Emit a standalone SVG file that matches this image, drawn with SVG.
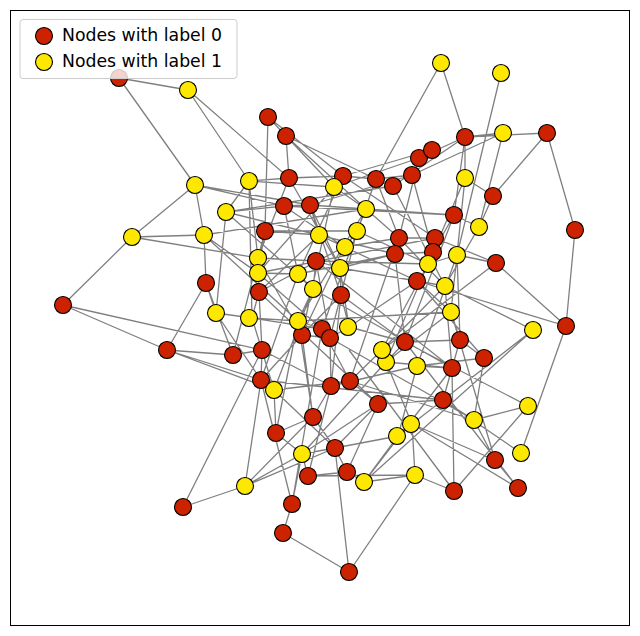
<svg xmlns="http://www.w3.org/2000/svg" width="640" height="636" viewBox="0 0 640 636">
<style>
.e{stroke:#000;stroke-opacity:.5;stroke-width:1.3;fill:none}
.r{fill:#cc2200;stroke:#000;stroke-width:1.1}
.y{fill:#ffe800;stroke:#000;stroke-width:1.1}
.t{font-family:"DejaVu Sans",sans-serif;font-size:17.3px;fill:#000}
</style>
<rect x="0" y="0" width="640" height="636" fill="#fff"/>
<rect x="10.5" y="10.5" width="619" height="615" fill="none" stroke="#000"/>
<g id="connectors">
<path class="e" d="M119,78L188,90 M119,78L195,185 M188,90L249,181 M188,90L289,178 M195,185L132,237 M195,185L204,235 M195,185L284,206 M195,185L310,205 M132,237L63,305 M132,237L204,235 M132,237L258,258 M63,305L262,350 M268,117L265,231 M268,117L286,136 M268,117L343,176 M286,136L289,178 M286,136L366,209 M286,136L376,179 M286,136L334,187 M441,63L465,137 M441,63L376,179 M501,73L457,255 M547,133L465,137 M547,133L493,196 M547,133L575,230 M575,230L566,326 M566,326L496,263 M566,326L521,453 M503,133L465,137 M503,133L412,175 M503,133L479,227 M465,137L419,158 M465,137L465,178 M465,137L454,215 M465,137L393,186 M432,150L419,158 M432,150L343,176 M419,158L395,254 M419,158L334,187 M412,175L310,205 M412,175L433,252 M412,175L376,179 M393,186L226,212 M393,186L445,286 M376,179L343,176 M376,179L399,238 M376,179L322,329 M343,176L334,187 M343,176L289,178 M343,176L435,238 M343,176L298,274 M334,187L249,181 M334,187L258,273 M334,187L302,335 M334,187L366,209 M289,178L249,181 M289,178L340,268 M289,178L258,258 M249,181L226,212 M249,181L258,258 M249,181L252,318 M226,212L284,206 M226,212L313,289 M226,212L216,313 M226,212L395,254 M204,235L206,283 M204,235L258,273 M204,235L298,321 M204,235L366,209 M284,206L310,205 M284,206L298,274 M284,206L344,247 M284,206L454,215 M310,205L319,235 M310,205L366,209 M310,205L340,268 M310,205L341,295 M366,209L357,231 M366,209L399,238 M366,209L454,215 M366,209L298,321 M265,231L319,235 M265,231L258,273 M265,231L357,231 M265,231L233,355 M319,235L259,292 M319,235L345,247 M319,235L417,281 M357,231L345,247 M357,231L330,338 M357,231L428,264 M344,247L259,292 M344,247L399,238 M344,247L302,335 M399,238L435,238 M399,238L445,286 M399,238L350,381 M435,238L433,252 M435,238L496,263 M435,238L258,273 M433,252L395,254 M433,252L454,215 M433,252L386,362 M395,254L340,268 M395,254L298,274 M395,254L405,342 M428,264L457,255 M428,264L382,350 M428,264L316,261 M457,255L496,263 M457,255L460,340 M457,255L417,366 M454,215L479,227 M454,215L405,342 M479,227L493,196 M479,227L445,286 M493,196L465,178 M465,178L451,312 M465,178L428,264 M258,258L316,261 M258,258L259,292 M258,258L302,335 M258,273L298,274 M258,273L322,329 M258,273L262,350 M316,261L340,268 M316,261L313,289 M316,261L330,338 M316,261L452,368 M340,268L341,295 M340,268L417,281 M340,268L349,327 M298,274L313,289 M298,274L261,380 M313,289L298,321 M313,289L452,368 M313,289L274,390 M341,295L302,335 M341,295L349,327 M341,295L405,342 M341,295L331,386 M259,292L252,318 M259,292L262,350 M259,292L378,404 M206,283L216,313 M206,283L167,350 M206,283L233,355 M216,313L252,318 M216,313L261,380 M252,318L322,329 M252,318L298,321 M252,318L274,390 M298,321L322,329 M298,321L451,312 M298,321L313,417 M298,321L276,433 M322,329L330,338 M322,329L350,381 M302,335L330,338 M302,335L261,380 M302,335L313,417 M330,338L349,327 M330,338L331,386 M330,338L474,420 M349,327L417,281 M349,327L405,342 M417,281L445,286 M417,281L451,312 M417,281L484,358 M417,281L566,326 M445,286L452,368 M445,286L382,350 M445,286L533,330 M451,312L460,340 M451,312L495,460 M451,312L386,362 M382,350L386,362 M382,350L350,381 M382,350L496,263 M386,362L405,342 M386,362L452,368 M386,362L412,424 M386,362L302,454 M405,342L460,340 M405,342L528,406 M460,340L484,358 M460,340L443,400 M484,358L474,420 M484,358L417,366 M417,366L452,368 M417,366L398,436 M417,366L331,386 M452,368L443,400 M452,368L454,491 M452,368L364,482 M533,330L443,400 M533,330L364,482 M167,350L261,380 M167,350L274,390 M63,305L167,350 M167,350L233,355 M233,355L262,350 M262,350L261,380 M262,350L331,386 M261,380L274,390 M261,380L245,486 M261,380L292,504 M261,380L443,400 M274,390L350,381 M274,390L276,433 M274,390L335,448 M331,386L350,381 M331,386L313,417 M331,386L308,476 M350,381L378,404 M350,381L474,420 M378,404L443,400 M378,404L335,448 M378,404L347,472 M378,404L302,454 M443,400L474,420 M443,400L521,453 M443,400L412,424 M474,420L528,406 M474,420L495,460 M528,406L454,491 M313,417L335,448 M313,417L276,433 M313,417L245,486 M276,433L302,454 M412,424L398,436 M412,424L495,460 M412,424L518,488 M412,424L415,475 M398,436L335,448 M398,436L364,482 M335,448L302,454 M335,448L347,472 M335,448L349,572 M302,454L308,476 M302,454L245,486 M308,476L347,472 M308,476L415,475 M347,472L364,482 M364,482L415,475 M415,475L454,491 M415,475L349,572 M454,491L349,350 M245,486L183,507 M183,507L262,350 M245,486L335,448 M292,504L283,533 M292,504L302,454 M283,533L349,572 M292,504L322,329 M495,460L518,488 M518,488L405,342 M521,453L566,326"/>
</g>
<g id="nodes">
<g id="r0"><circle class="r" cx="119" cy="78" r="8.5"/><circle class="r" cx="268" cy="117" r="8.5"/><circle class="r" cx="286" cy="136" r="8.5"/><circle class="r" cx="465" cy="137" r="8.5"/><circle class="r" cx="547" cy="133" r="8.5"/><circle class="r" cx="419" cy="158" r="8.5"/><circle class="r" cx="432" cy="150" r="8.5"/><circle class="r" cx="412" cy="175" r="8.5"/><circle class="r" cx="393" cy="186" r="8.5"/><circle class="r" cx="376" cy="179" r="8.5"/><circle class="r" cx="343" cy="176" r="8.5"/><circle class="r" cx="289" cy="178" r="8.5"/><circle class="r" cx="284" cy="206" r="8.5"/><circle class="r" cx="310" cy="205" r="8.5"/><circle class="r" cx="493" cy="196" r="8.5"/><circle class="r" cx="454" cy="215" r="8.5"/><circle class="r" cx="575" cy="230" r="8.5"/><circle class="r" cx="265" cy="231" r="8.5"/><circle class="r" cx="399" cy="238" r="8.5"/><circle class="r" cx="435" cy="238" r="8.5"/><circle class="r" cx="433" cy="252" r="8.5"/><circle class="r" cx="395" cy="254" r="8.5"/><circle class="r" cx="496" cy="263" r="8.5"/><circle class="r" cx="316" cy="261" r="8.5"/><circle class="r" cx="206" cy="283" r="8.5"/><circle class="r" cx="259" cy="292" r="8.5"/><circle class="r" cx="341" cy="295" r="8.5"/><circle class="r" cx="417" cy="281" r="8.5"/><circle class="r" cx="63" cy="305" r="8.5"/><circle class="r" cx="566" cy="326" r="8.5"/><circle class="r" cx="322" cy="329" r="8.5"/><circle class="r" cx="302" cy="335" r="8.5"/><circle class="r" cx="330" cy="338" r="8.5"/><circle class="r" cx="167" cy="350" r="8.5"/><circle class="r" cx="233" cy="355" r="8.5"/><circle class="r" cx="262" cy="350" r="8.5"/><circle class="r" cx="405" cy="342" r="8.5"/><circle class="r" cx="460" cy="340" r="8.5"/><circle class="r" cx="484" cy="358" r="8.5"/><circle class="r" cx="452" cy="368" r="8.5"/><circle class="r" cx="261" cy="380" r="8.5"/><circle class="r" cx="331" cy="386" r="8.5"/><circle class="r" cx="350" cy="381" r="8.5"/><circle class="r" cx="378" cy="404" r="8.5"/><circle class="r" cx="443" cy="400" r="8.5"/><circle class="r" cx="313" cy="417" r="8.5"/><circle class="r" cx="276" cy="433" r="8.5"/><circle class="r" cx="335" cy="448" r="8.5"/><circle class="r" cx="495" cy="460" r="8.5"/><circle class="r" cx="308" cy="476" r="8.5"/><circle class="r" cx="347" cy="472" r="8.5"/><circle class="r" cx="454" cy="491" r="8.5"/><circle class="r" cx="518" cy="488" r="8.5"/><circle class="r" cx="183" cy="507" r="8.5"/><circle class="r" cx="292" cy="504" r="8.5"/><circle class="r" cx="283" cy="533" r="8.5"/><circle class="r" cx="349" cy="572" r="8.5"/></g>
<g id="y1"><circle class="y" cx="188" cy="90" r="8.5"/><circle class="y" cx="441" cy="63" r="8.5"/><circle class="y" cx="501" cy="73" r="8.5"/><circle class="y" cx="503" cy="133" r="8.5"/><circle class="y" cx="334" cy="187" r="8.5"/><circle class="y" cx="249" cy="181" r="8.5"/><circle class="y" cx="195" cy="185" r="8.5"/><circle class="y" cx="226" cy="212" r="8.5"/><circle class="y" cx="366" cy="209" r="8.5"/><circle class="y" cx="465" cy="178" r="8.5"/><circle class="y" cx="479" cy="227" r="8.5"/><circle class="y" cx="132" cy="237" r="8.5"/><circle class="y" cx="204" cy="235" r="8.5"/><circle class="y" cx="319" cy="235" r="8.5"/><circle class="y" cx="357" cy="231" r="8.5"/><circle class="y" cx="345" cy="247" r="8.5"/><circle class="y" cx="428" cy="264" r="8.5"/><circle class="y" cx="457" cy="255" r="8.5"/><circle class="y" cx="258" cy="258" r="8.5"/><circle class="y" cx="258" cy="273" r="8.5"/><circle class="y" cx="340" cy="268" r="8.5"/><circle class="y" cx="298" cy="274" r="8.5"/><circle class="y" cx="313" cy="289" r="8.5"/><circle class="y" cx="445" cy="286" r="8.5"/><circle class="y" cx="216" cy="313" r="8.5"/><circle class="y" cx="249" cy="318" r="8.5"/><circle class="y" cx="298" cy="321" r="8.5"/><circle class="y" cx="348" cy="327" r="8.5"/><circle class="y" cx="451" cy="312" r="8.5"/><circle class="y" cx="533" cy="330" r="8.5"/><circle class="y" cx="386" cy="362" r="8.5"/><circle class="y" cx="382" cy="350" r="8.5"/><circle class="y" cx="417" cy="366" r="8.5"/><circle class="y" cx="274" cy="390" r="8.5"/><circle class="y" cx="474" cy="420" r="8.5"/><circle class="y" cx="528" cy="406" r="8.5"/><circle class="y" cx="411" cy="424" r="8.5"/><circle class="y" cx="397" cy="436" r="8.5"/><circle class="y" cx="302" cy="454" r="8.5"/><circle class="y" cx="521" cy="453" r="8.5"/><circle class="y" cx="415" cy="475" r="8.5"/><circle class="y" cx="364" cy="482" r="8.5"/><circle class="y" cx="245" cy="486" r="8.5"/></g>
</g>
<g id="legend">
<rect x="20" y="19.5" width="217" height="59" rx="3" fill="#fff" fill-opacity="0.8" stroke="#ccc"/>
<circle class="r" cx="44" cy="36" r="8.5"/>
<text class="t" x="62" y="41">Nodes with label 0</text>
<circle class="y" cx="44" cy="62" r="8.5"/>
<text class="t" x="62" y="67">Nodes with label 1</text>
</g>
</svg>
